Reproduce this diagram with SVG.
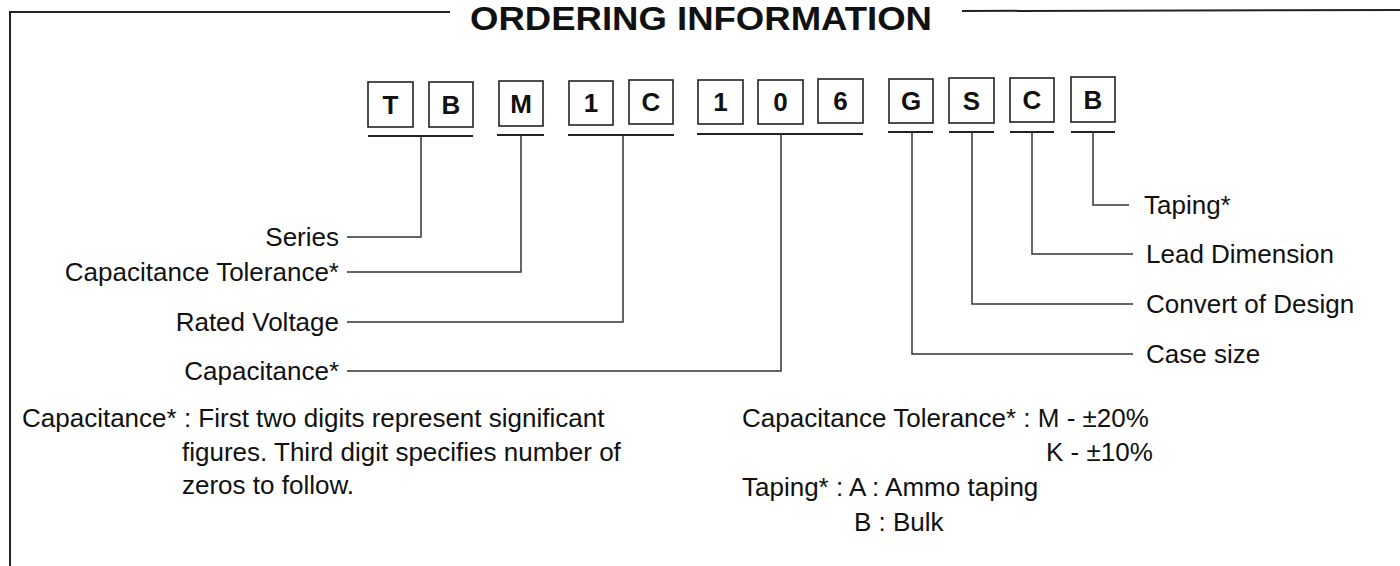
<svg xmlns="http://www.w3.org/2000/svg" width="1400" height="566" viewBox="0 0 1400 566">
<style>
.bg{fill:#fff}
.frame{fill:none;stroke:#222;stroke-width:2}
.box{fill:#fff;stroke:#222;stroke-width:1.6}
.ul{stroke:#222;stroke-width:2;fill:none}
.ln{stroke:#333;stroke-width:1.5;fill:none}
.bl{font-family:"Liberation Sans",Arial,sans-serif;font-weight:bold;font-size:26px;fill:#111;text-anchor:middle}
.lb{font-family:"Liberation Sans",Arial,sans-serif;font-size:26px;fill:#111}
.r{text-anchor:end}
.title{font-family:"Liberation Sans",Arial,sans-serif;font-weight:bold;font-size:34px;fill:#111;text-anchor:middle}
</style>
<rect class="bg" x="0" y="0" width="1400" height="566"/>
<g id="frame">
<polyline class="frame" points="10,566 10,12 450,12"/>
<line class="frame" x1="962" y1="11" x2="1400" y2="10"/>
<text class="title" x="701" y="30" textLength="462" lengthAdjust="spacingAndGlyphs">ORDERING INFORMATION</text>
</g>
<g id="code-boxes">
<g id="box-T"><rect class="box" x="368" y="82" width="45" height="45"/><text class="bl" x="390.5" y="114">T</text></g>
<g id="box-B1"><rect class="box" x="429" y="82" width="44" height="45"/><text class="bl" x="451" y="114">B</text></g>
<g id="box-M"><rect class="box" x="499" y="81" width="44" height="45"/><text class="bl" x="521" y="113">M</text></g>
<g id="box-1a"><rect class="box" x="569" y="81" width="44" height="44"/><text class="bl" x="591" y="112">1</text></g>
<g id="box-C1"><rect class="box" x="629" y="80" width="44" height="44"/><text class="bl" x="651" y="111">C</text></g>
<g id="box-1b"><rect class="box" x="698" y="80" width="45" height="44"/><text class="bl" x="720.5" y="111">1</text></g>
<g id="box-0"><rect class="box" x="758" y="80" width="45" height="44"/><text class="bl" x="780.5" y="111">0</text></g>
<g id="box-6"><rect class="box" x="818" y="79" width="45" height="44"/><text class="bl" x="840.5" y="110">6</text></g>
<g id="box-G"><rect class="box" x="889" y="79" width="44" height="44"/><text class="bl" x="911" y="110">G</text></g>
<g id="box-S"><rect class="box" x="949" y="78" width="45" height="45"/><text class="bl" x="971.5" y="110">S</text></g>
<g id="box-C2"><rect class="box" x="1010" y="78" width="44" height="44"/><text class="bl" x="1032" y="109">C</text></g>
<g id="box-B2"><rect class="box" x="1071" y="77" width="44" height="45"/><text class="bl" x="1093" y="109">B</text></g>
</g>
<g id="connectors">
<line class="ul" x1="368" y1="136" x2="473" y2="136"/>
<line class="ul" x1="497" y1="135" x2="544" y2="135"/>
<line class="ul" x1="568" y1="135" x2="674" y2="135"/>
<line class="ul" x1="697" y1="134" x2="863" y2="134"/>
<line class="ul" x1="888" y1="132" x2="933" y2="132"/>
<line class="ul" x1="949" y1="132" x2="994" y2="132"/>
<line class="ul" x1="1010" y1="132" x2="1054" y2="132"/>
<line class="ul" x1="1071" y1="132" x2="1115" y2="132"/>
<polyline class="ln" points="421,136 421,237 347,237"/>
<polyline class="ln" points="521,135 521,272 347,272"/>
<polyline class="ln" points="623,135 623,322 347,322"/>
<polyline class="ln" points="781,134 781,371 347,371"/>
<polyline class="ln" points="912,132 912,354 1133,354"/>
<polyline class="ln" points="972,132 972,304 1133,304"/>
<polyline class="ln" points="1032,132 1032,254 1133,254"/>
<polyline class="ln" points="1093,132 1093,205 1129,205"/>
</g>
<g id="labels-left">
<text class="lb r" x="339" y="246">Series</text>
<text class="lb r" x="339" y="281">Capacitance Tolerance*</text>
<text class="lb r" x="339" y="331">Rated Voltage</text>
<text class="lb r" x="339" y="380">Capacitance*</text>
</g>
<g id="labels-right">
<text class="lb" x="1144" y="214">Taping*</text>
<text class="lb" x="1146" y="263">Lead Dimension</text>
<text class="lb" x="1146" y="313">Convert of Design</text>
<text class="lb" x="1146" y="363">Case size</text>
</g>
<g id="notes-left">
<text class="lb" x="22" y="427">Capacitance* : First two digits represent significant</text>
<text class="lb" x="182" y="461">figures. Third digit specifies number of</text>
<text class="lb" x="182" y="494">zeros to follow.</text>
</g>
<g id="notes-right">
<text class="lb" x="742" y="427">Capacitance Tolerance* : M - ±20%</text>
<text class="lb" x="1046" y="461">K - ±10%</text>
<text class="lb" x="742" y="496">Taping* : A : Ammo taping</text>
<text class="lb" x="854" y="531">B : Bulk</text>
</g>
</svg>
